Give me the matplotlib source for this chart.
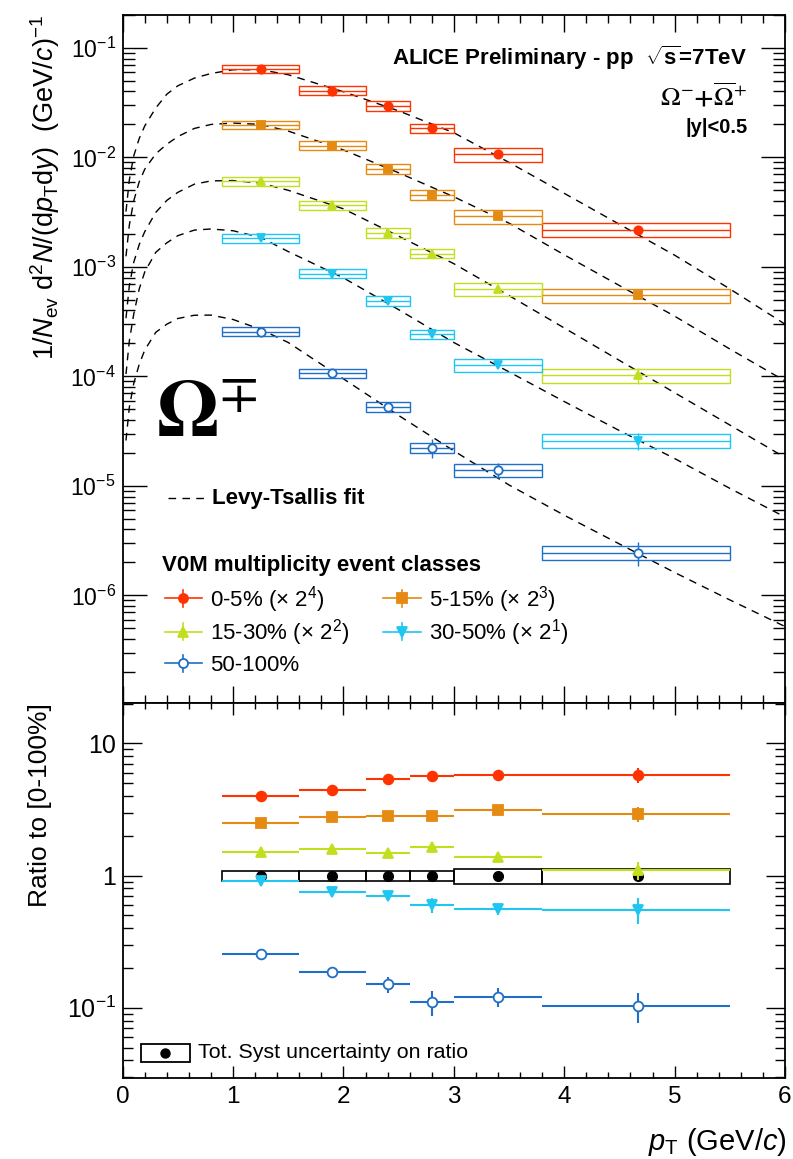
import matplotlib
matplotlib.use("Agg")
import matplotlib.pyplot as plt
from matplotlib.patches import Rectangle
from matplotlib.ticker import FixedLocator, NullFormatter, LogLocator, MultipleLocator, FixedFormatter

plt.rcParams["font.family"] = ["Liberation Sans", "DejaVu Sans"]
plt.rcParams["mathtext.fontset"] = "custom"
plt.rcParams["mathtext.rm"] = "Liberation Sans"
plt.rcParams["mathtext.it"] = "Liberation Sans:italic"
plt.rcParams["mathtext.bf"] = "Liberation Sans:bold"

# pT bins (GeV/c) and mean pT in each bin
bin_lo = [0.9, 1.6, 2.2, 2.6, 3.0, 3.8]
bin_hi = [1.6, 2.2, 2.6, 3.0, 3.8, 5.5]
pt_mean = [1.25, 1.9, 2.4, 2.8, 3.4, 4.67]

class_labels = [
    r"0-5% ($\times$ 2$^{4}$)",
    r"5-15% ($\times$ 2$^{3}$)",
    r"15-30% ($\times$ 2$^{2}$)",
    r"30-50% ($\times$ 2$^{1}$)",
    "50-100%",
]
colors = ["#FF3300", "#E58A12", "#C3DE1E", "#1FC6F2", "#1F6FC8"]
markers = ["o", "s", "^", "v", "o"]
filled = [True, True, True, True, False]

# scaled spectra 1/Nev d2N/(dpT dy)
spec_0_5 = [0.0642, 0.0407, 0.0297, 0.0184, 0.01064, 0.00218]
spec_5_15 = [0.0199, 0.0128, 0.00788, 0.00456, 0.00289, 0.000552]
spec_15_30 = [0.00608, 0.00367, 0.00204, 0.00132, 0.000626, 0.000102]
spec_30_50 = [0.00182, 0.00087, 0.000493, 0.000243, 0.000127, 2.59e-5]
spec_50_100 = [0.000257, 0.000107, 5.3e-5, 2.23e-5, 1.40e-5, 2.45e-6]

# relative stat. errors on spectra
stat_0_5 = [0.01, 0.01, 0.015, 0.02, 0.03, 0.05]
stat_5_15 = [0.01, 0.015, 0.02, 0.025, 0.035, 0.06]
stat_15_30 = [0.015, 0.02, 0.025, 0.03, 0.05, 0.16]
stat_30_50 = [0.02, 0.03, 0.05, 0.07, 0.06, 0.18]
stat_50_100 = [0.03, 0.05, 0.10, 0.20, 0.15, 0.25]

# relative syst. errors (boxes)
sys_rel = [0.09, 0.095, 0.105, 0.095, 0.14, 0.145]

# Levy-Tsallis fit curves
fit_pt = [0.03, 0.06, 0.1, 0.15, 0.2, 0.3, 0.4, 0.5, 0.65, 0.8, 1.0, 1.25,
          1.5, 2.0, 2.5, 3.0, 3.5, 4.0, 4.5, 5.0, 5.5, 6.0]
fit_0_5 = [0.0032, 0.0062, 0.0103, 0.0149, 0.0194, 0.0283, 0.0378, 0.0451,
           0.0530, 0.0584, 0.0632, 0.0632, 0.0569, 0.0398, 0.0266, 0.0168,
           0.0090, 0.0047, 0.00245, 0.00128, 0.00063, 0.00030]
fit_5_15 = [0.00125, 0.0024, 0.0040, 0.0060, 0.0078, 0.0108, 0.0132, 0.0155,
            0.0184, 0.0200, 0.0206, 0.0200, 0.0174, 0.0117, 0.00724, 0.00437,
            0.00251, 0.00129, 0.000676, 0.000355, 0.000178, 0.000091]
fit_15_30 = [0.00034, 0.00067, 0.00110, 0.00160, 0.00210, 0.00315, 0.00405,
             0.00480, 0.00570, 0.00610, 0.00615, 0.00582, 0.00501, 0.00339,
             0.00191, 0.00107, 0.000547, 0.000277, 0.000140, 7.1e-5, 3.6e-5,
             1.82e-5]
fit_30_50 = [0.000105, 0.00021, 0.00037, 0.00063, 0.00090, 0.00136, 0.00166,
             0.00193, 0.00217, 0.00222, 0.00214, 0.00186, 0.00138, 0.000794,
             0.000407, 0.000204, 0.000110, 5.9e-5, 3.2e-5, 1.78e-5, 9.5e-6,
             5.2e-6]
fit_50_100 = [2.6e-5, 5.2e-5, 8.6e-5, 1.29e-4, 1.74e-4, 2.53e-4, 3.00e-4,
              3.38e-4, 3.62e-4, 3.63e-4, 3.31e-4, 2.69e-4, 2.04e-4, 9.5e-5,
              4.4e-5, 2.09e-5, 1.02e-5, 5.4e-6, 2.95e-6, 1.62e-6, 9.1e-7, 5.2e-7]

# ratios to [0-100%]
ratio_0_5 = [4.02, 4.46, 5.37, 5.71, 5.78, 5.78]
ratio_5_15 = [2.48, 2.77, 2.82, 2.80, 3.13, 2.92]
ratio_15_30 = [1.52, 1.60, 1.47, 1.65, 1.38, 1.10]
ratio_30_50 = [0.912, 0.757, 0.706, 0.597, 0.557, 0.551]
ratio_50_100 = [0.257, 0.185, 0.150, 0.110, 0.121, 0.103]

rstat_0_5 = [0.02, 0.02, 0.03, 0.04, 0.05, 0.13]
rstat_5_15 = [0.02, 0.02, 0.03, 0.04, 0.05, 0.13]
rstat_15_30 = [0.02, 0.03, 0.04, 0.06, 0.07, 0.16]
rstat_30_50 = [0.03, 0.04, 0.08, 0.13, 0.10, 0.22]
rstat_50_100 = [0.04, 0.06, 0.14, 0.21, 0.17, 0.25]

# total syst. uncertainty on ratio (black boxes around 1)
ratio_sys = [0.09, 0.09, 0.09, 0.09, 0.13, 0.13]

spectra = [spec_0_5, spec_5_15, spec_15_30, spec_30_50, spec_50_100]
stats = [stat_0_5, stat_5_15, stat_15_30, stat_30_50, stat_50_100]
fits = [fit_0_5, fit_5_15, fit_15_30, fit_30_50, fit_50_100]
ratios = [ratio_0_5, ratio_5_15, ratio_15_30, ratio_30_50, ratio_50_100]
rstats = [rstat_0_5, rstat_5_15, rstat_15_30, rstat_30_50, rstat_50_100]

DASH = (0, (5.5, 4.5))


def xerr_of():
    return [[m - lo for m, lo in zip(pt_mean, bin_lo)],
            [hi - m for m, hi in zip(pt_mean, bin_hi)]]


def style_axis(ax, xmaj, xmin, ymaj, ymin):
    ax.tick_params(which="both", direction="in", top=True, right=True, width=1)
    ax.tick_params(axis="x", which="major", length=xmaj)
    ax.tick_params(axis="x", which="minor", length=xmin)
    ax.tick_params(axis="y", which="major", length=ymaj)
    ax.tick_params(axis="y", which="minor", length=ymin)
    ax.xaxis.set_major_locator(MultipleLocator(1))
    ax.xaxis.set_minor_locator(MultipleLocator(0.2))
    for s in ax.spines.values():
        s.set_linewidth(1.3)


def plot_spectra(ax):
    xerr = xerr_of()
    for spec, st, fit, c, m, f in zip(spectra, stats, fits, colors, markers, filled):
        ax.plot(fit_pt, fit, color="black", lw=1.0, ls=DASH, zorder=2)
        for lo, hi, y, s in zip(bin_lo, bin_hi, spec, sys_rel):
            ax.add_patch(Rectangle((lo, y * (1 - s)), hi - lo, 2 * y * s,
                                   fill=False, ec=c, lw=1.0, zorder=3))
        yerr = [y * e for y, e in zip(spec, st)]
        ax.errorbar(pt_mean, spec, xerr=xerr, yerr=yerr, fmt=m, color=c,
                    mfc=c if f else "white", mec=c, mew=1.3, ms=6,
                    elinewidth=1.0, capsize=0, zorder=4)

    ax.set_yscale("log")
    ax.set_xlim(0, 6)
    ax.set_ylim(1.04e-7, 0.2)
    style_axis(ax, 12, 6, 17, 8.5)
    ax.yaxis.set_major_locator(LogLocator(base=10, numticks=20))
    ax.yaxis.set_minor_locator(LogLocator(base=10, subs=range(2, 10), numticks=20))
    ax.yaxis.set_minor_formatter(NullFormatter())
    ax.tick_params(axis="y", labelsize=16.5, pad=5)
    ax.tick_params(axis="x", labelbottom=False)

    tr = ax.get_xaxis_transform()
    ax.text(5.66, 0.9273, r"ALICE Preliminary - pp  $\sqrt{\mathbf{s}}$=7TeV",
            transform=tr, ha="right", va="baseline", fontsize=16, fontweight="bold")
    ax.text(5.66, 0.8677, r"$\Omega^{-}\mathbf{+}\overline{\Omega}^{+}$",
            transform=tr, ha="right", va="baseline", fontsize=19,
            math_fontfamily="stix")
    ax.text(5.66, 0.8285, "|y|<0.5", transform=tr, ha="right", va="baseline",
            fontsize=14.5, fontweight="bold")
    ax.text(0.3, 0.386, r"$\mathbf{\Omega}^{\mp}$", transform=tr, ha="left",
            va="baseline", fontsize=58, math_fontfamily="stix")

    # fit legend
    ax.plot([0.41, 0.75], [0.2975, 0.2975], transform=tr, color="black",
            lw=1.0, ls=DASH)
    ax.text(0.81, 0.2892, "Levy-Tsallis fit", transform=tr, ha="left",
            va="baseline", fontsize=16, fontweight="bold")

    # class legend
    ax.text(0.36, 0.1923, "V0M multiplicity event classes", transform=tr,
            ha="left", va="baseline", fontsize=16, fontweight="bold")
    slots = [(0.55, 0.1522), (2.53, 0.1522), (0.55, 0.1037), (2.53, 0.1037),
             (0.55, 0.0577)]
    for (xm, fy), lab, c, m, f in zip(slots, class_labels, colors, markers, filled):
        ax.plot([xm - 0.17, xm + 0.17], [fy, fy], transform=tr, color=c, lw=1.2)
        ax.plot([xm, xm], [fy - 0.012, fy + 0.012], transform=tr, color=c, lw=1.2)
        ax.plot([xm], [fy], transform=tr, marker=m, color=c,
                mfc=c if f else "white", mec=c, mew=1.3, ms=6.5)
        ax.text(xm + 0.245, fy - 0.0112, lab, transform=tr, ha="left",
                va="baseline", fontsize=16)


def plot_ratio(ax):
    xerr = xerr_of()
    for lo, hi, s in zip(bin_lo, bin_hi, ratio_sys):
        ax.add_patch(Rectangle((lo, 1 - s), hi - lo, 2 * s, fill=False,
                               ec="black", lw=1.2, zorder=2))
    ax.plot(pt_mean, [1.0] * len(pt_mean), "o", color="black", ms=7, zorder=3)
    for r, st, c, m, f in zip(ratios, rstats, colors, markers, filled):
        yerr = [y * e for y, e in zip(r, st)]
        ax.errorbar(pt_mean, r, xerr=xerr, yerr=yerr, fmt=m, color=c,
                    mfc=c if f else "white", mec=c, mew=1.3, ms=7,
                    elinewidth=1.5, capsize=0, zorder=4)

    ax.set_yscale("log")
    ax.set_xlim(0, 6)
    ax.set_ylim(0.0294, 20.2)
    style_axis(ax, 8.5, 4.3, 14, 7)
    ax.yaxis.set_major_locator(FixedLocator([0.1, 1, 10]))
    ax.yaxis.set_major_formatter(FixedFormatter([r"10$^{-1}$", "1", "10"]))
    ax.yaxis.set_minor_locator(LogLocator(base=10, subs=range(2, 10), numticks=20))
    ax.yaxis.set_minor_formatter(NullFormatter())
    ax.tick_params(axis="y", labelsize=18, pad=5)
    ax.tick_params(axis="x", labelsize=17.5, pad=6)

    tr = ax.get_xaxis_transform()
    ax.add_patch(Rectangle((0.164, 0.0435), 0.442, 0.0472, transform=tr,
                           fill=False, ec="black", lw=1.3))
    ax.plot([0.385], [0.0675], transform=tr, marker="o", color="black", ms=6.5)
    ax.text(0.685, 0.0525, "Tot. Syst uncertainty on ratio", transform=tr,
            ha="left", va="baseline", fontsize=15.4)


def main():
    fig = plt.figure(figsize=(7.93, 11.59), dpi=100)
    ax_top = fig.add_axes([0.1547, 0.3934, 0.8352, 0.5937])
    ax_bot = fig.add_axes([0.1547, 0.0699, 0.8352, 0.3235])

    plot_spectra(ax_top)
    plot_ratio(ax_bot)

    fig.text(0.057, 0.987,
             r"1/$N_{\rm ev}$ d$^{2}N$/(d$p_{\rm T}$d$y$)  (GeV/$c$)$^{-1}$",
             rotation=90, ha="center", va="top", fontsize=19.5)
    fig.text(0.050, 0.3934, "Ratio to [0-100%]", rotation=90, ha="center",
             va="top", fontsize=19)
    fig.text(0.992, 0.0078, r"$p_{\rm T}$ (GeV/$c$)", ha="right",
             va="baseline", fontsize=21)

    fig.savefig("out.png", dpi=100)


if __name__ == "__main__":
    main()
